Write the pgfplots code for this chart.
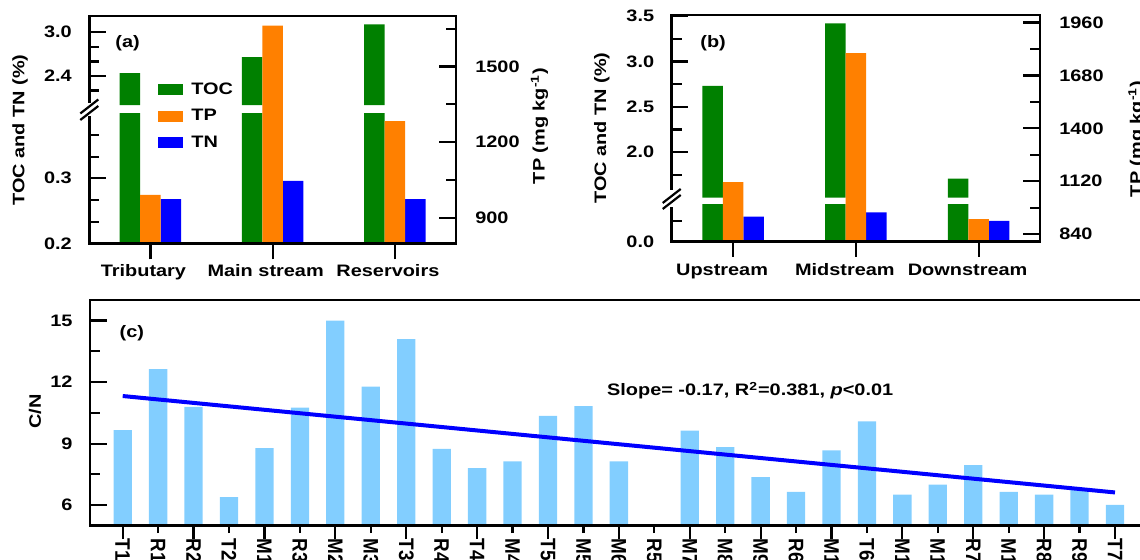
\documentclass[border=0pt]{standalone}
\usepackage{fontspec}
\setmainfont{Liberation Sans}[FakeStretch=1.2]
\newfontfamily\cnfont{Liberation Sans}[FakeStretch=0.9]
\usepackage{pgfplots}
\pgfplotsset{compat=1.18}
\definecolor{cGreen}{RGB}{0,128,0}
\definecolor{cOrange}{RGB}{255,128,0}
\definecolor{cBlue}{RGB}{0,0,255}
\definecolor{cLight}{RGB}{130,206,255}
\newcommand{\ff}{\bfseries\fontsize{8.3}{10}\selectfont}
\newcommand{\fc}{\cnfont\bfseries\fontsize{10.5}{12}\selectfont}
\pgfplotsset{
  base/.style={
    scale only axis,
    axis line style={line width=1.3pt},
    tick style={black, line width=1.1pt},
    tick align=inside,
    major tick length=8.3pt, minor tick length=5pt,
    /pgf/number format/assume math mode=true,
    /pgf/number format/1000 sep={},
    tick label style={font=\ff},
    label style={font=\ff},
    ybar, bar width=10.25pt,
    xmin=-0.5, xmax=2.5,
  },
  seg/.style={base, axis line style={draw=none}, xtick=\empty, ytick pos=left,
    yticklabel style={/pgf/number format/fixed, /pgf/number format/fixed zerofill, /pgf/number format/precision=1, xshift=-5.8pt}},
  legbox/.style={legend image code/.code={\fill[##1] (0pt,-2.75pt) rectangle (12.5pt,2.75pt);}},
}
\begin{document}
\ff
\begin{tikzpicture}[font=\ff]
\useasboundingbox (0,0) rectangle (570pt,280pt);
\clip (0,0) rectangle (570pt,280pt);

% ---------------- (a) ----------------
\begin{axis}[seg, at={(44.65pt,227.45pt)}, anchor=south west, width=183.35pt, height=44.55pt,
  ymin=2.0, ymax=3.224, ytick={2.4,3.0}, minor ytick={2.2,2.6,2.8}]
  \addplot[fill=cGreen, draw=none, bar shift=-10.25pt] coordinates {(0,2.44) (1,2.66) (2,3.11)};
\end{axis}
\begin{axis}[seg, at={(44.65pt,158.35pt)}, anchor=south west, width=183.35pt, height=65pt,
  ymin=0.2, ymax=0.4, ytick={0.2,0.3}, minor ytick={0.2333,0.2667,0.3333,0.3667},
  ylabel={TOC and TN (\%)}, ylabel style={at={(axis description cs:-0.189,0.8715)}, anchor=center}]
  \addplot[fill=cGreen, draw=none, bar shift=-10.25pt] coordinates {(0,2.44) (1,2.66) (2,3.11)};
  \addplot[fill=cBlue, draw=none, bar shift=10.25pt] coordinates {(0,0.268) (1,0.296) (2,0.268)};
\end{axis}
\begin{axis}[base, at={(44.65pt,158.35pt)}, anchor=south west, width=183.35pt, height=113.65pt,
  axis on top, ymin=800, ymax=1700,
  xtick={0,1,2}, xticklabels={Tributary,Main stream,Reservoirs},
  xtick pos=bottom, ytick pos=right, yticklabel pos=right,
  ytick={900,1200,1500}, minor ytick={1050,1350,1650},
  xticklabel style={xshift=-3.5pt, yshift=0.5pt},
  yticklabel style={xshift=6.7pt},
  xtick style={/pgfplots/major tick length=8pt},
  ylabel={TP (mg kg\textsuperscript{-1})}, ylabel style={at={(axis description cs:1.2277,0.516)}, anchor=center},
  legend style={draw=none, fill=none, at={(rel axis cs:0.1873,0.727)}, anchor=north west, inner sep=0pt, font=\ff, row sep=2.3pt, column sep=2pt, nodes={inner sep=2pt}},
  legend cell align=left,
]
  \addlegendimage{legbox, fill=cGreen, draw=none}
  \addlegendentry{TOC}
  \addplot[fill=cOrange, draw=none, bar shift=0pt, legbox] coordinates {(0,992) (1,1662) (2,1284)};
  \addlegendentry{TP}
  \addlegendimage{legbox, fill=cBlue, draw=none}
  \addlegendentry{TN}
  \node[anchor=west, inner sep=0pt, font=\ff] at (rel axis cs:0.070,0.881) {(a)};
\end{axis}
\fill[white] (43pt,222pt) rectangle (46.3pt,228.5pt);
\draw[line width=1.1pt] (40.15pt,223.25pt) -- (49.15pt,230.25pt);
\draw[line width=1.1pt] (40.15pt,220pt) -- (49.15pt,227pt);

% ---------------- (b) ----------------
\begin{axis}[seg, at={(335.85pt,181.15pt)}, anchor=south west, width=184.15pt, height=91.35pt,
  ymin=1.5, ymax=3.511, ytick={2.0,2.5,3.0,3.5}, minor ytick={1.75,2.25,2.75,3.25},
  ylabel={TOC and TN (\%)}, ylabel style={at={(axis description cs:-0.190,0.3815)}, anchor=center}]
  \addplot[fill=cGreen, draw=none, bar shift=-10.25pt] coordinates {(0,2.73) (1,3.42) (2,1.71)};
\end{axis}
\begin{axis}[seg, at={(335.85pt,159.15pt)}, anchor=south west, width=184.15pt, height=18.35pt,
  ymin=0, ymax=0.45, ytick={0}, minor ytick={0.25}]
  \addplot[fill=cGreen, draw=none, bar shift=-10.25pt] coordinates {(0,2.73) (1,3.42) (2,1.71)};
  \addplot[fill=cBlue, draw=none, bar shift=10.25pt] coordinates {(0,0.307) (1,0.36) (2,0.254)};
\end{axis}
\begin{axis}[base, at={(335.85pt,159.15pt)}, anchor=south west, width=184.15pt, height=113.35pt,
  axis on top, ymin=800, ymax=2000,
  xtick={0,1,2}, xticklabels={Upstream,Midstream,Downstream},
  xtick pos=bottom, ytick pos=right, yticklabel pos=right,
  ytick={840,1120,1400,1680,1960}, minor ytick={980,1260,1540,1820},
  xticklabel style={xshift=-5.5pt, yshift=0.2pt},
  yticklabel style={xshift=6.7pt},
  xtick style={/pgfplots/major tick length=7.5pt},
  ylabel={TP (mg kg\textsuperscript{-1})}, ylabel style={at={(axis description cs:1.263,0.453)}, anchor=center},
]
  \addplot[fill=cOrange, draw=none, bar shift=0pt] coordinates {(0,1115) (1,1798) (2,920)};
  \node[anchor=west, inner sep=0pt, font=\ff] at (rel axis cs:0.0768,0.875) {(b)};
\end{axis}
\fill[white] (334.2pt,176.65pt) rectangle (337.5pt,185pt);
\draw[line width=1.1pt] (331.35pt,178.5pt) -- (340.35pt,185.5pt);
\draw[line width=1.1pt] (331.35pt,175.5pt) -- (340.35pt,182.5pt);

% ---------------- (c) ----------------
\begin{axis}[base, at={(45pt,17.15pt)}, anchor=south west, width=528.85pt, height=112.85pt,
  axis on top, xmin=-0.923, xmax=28.923, ymin=5, ymax=16, bar width=9.15pt,
  xtick={0,...,28},
  xticklabels={T1,R1,R2,T2,M1,R3,M2,M3,T3,R4,T4,M4,T5,M5,M6,R5,M7,M8,M9,R6,M10,T6,M11,M12,R7,M13,R8,R9,T7},
  minor xtick={0,2,...,28},
  xtick style={/pgfplots/major tick length=3.7pt, /pgfplots/minor tick length=6.7pt},
  xticklabel style={rotate=-90, anchor=west, inner sep=0pt, font=\fc},
  xticklabel shift=-2pt,
  xtick pos=bottom, ytick pos=left,
  ytick={6,9,12,15}, minor ytick={7.5,10.5,13.5},
  yticklabel style={xshift=-5.8pt},
  ylabel={C/N}, ylabel style={at={(axis description cs:-0.052,0.505)}, anchor=center},
]
  \addplot[fill=cLight, draw=none, bar shift=0pt] coordinates {
    (0,9.66) (1,12.63) (2,10.79) (3,6.39) (4,8.78) (5,10.75) (6,14.99) (7,11.78)
    (8,14.09) (9,8.74) (10,7.81) (11,8.13) (12,10.35) (13,10.83) (14,8.13)
    (16,9.63) (17,8.83) (18,7.37) (19,6.65) (20,8.67) (21,10.09) (22,6.52)
    (23,7.00) (24,7.95) (25,6.65) (26,6.52) (27,6.75) (28,6.02)};
  \addplot[cBlue, line width=2pt, sharp plot, no markers] coordinates {(0,11.32) (28,6.62)};
  \node[anchor=west, inner sep=0pt, font=\ff] at (rel axis cs:0.0277,0.852) {(c)};
  \node[anchor=west, inner sep=0pt, font=\ff] at (rel axis cs:0.4885,0.598) {Slope= -0.17, R\textsuperscript{2}=0.381, \textit{p}<0.01};
\end{axis}
\end{tikzpicture}
\end{document}
